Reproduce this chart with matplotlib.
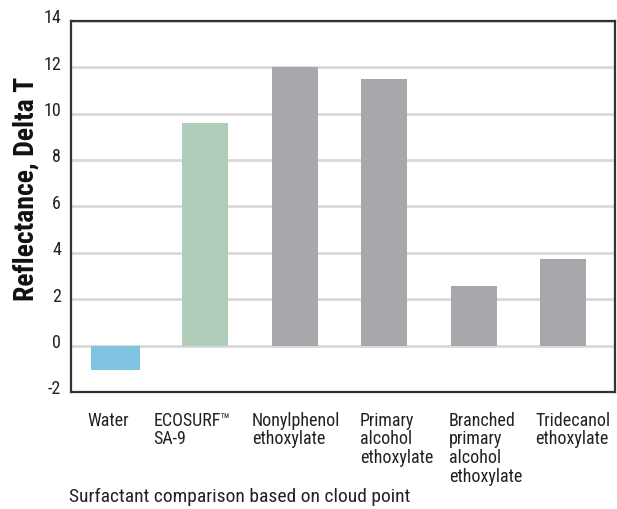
import matplotlib
matplotlib.use("Agg")
import matplotlib.pyplot as plt
import matplotlib.transforms as mtransforms

categories = ["Water", "ECOSURF\u2122\nSA-9", "Nonylphenol\nethoxylate",
              "Primary\nalcohol\nethoxylate", "Branched\nprimary\nalcohol\nethoxylate",
              "Tridecanol\nethoxylate"]
values = [-1.05, 9.6, 12.0, 11.5, 2.55, 3.75]
colors = ["#80c4e1", "#afcdb9", "#a7a8ac", "#a7a8ac", "#a7a8ac", "#a7a8ac"]
widths = [0.55, 0.51, 0.51, 0.51, 0.51, 0.51]
label_offsets = [-0.32, -0.58, -0.48, -0.27, -0.28, -0.31]
yticks = [-2, 0, 2, 4, 6, 8, 10, 12, 14]

FAM = ['Roboto Condensed', 'Liberation Sans', 'DejaVu Sans']
plt.rcParams['font.family'] = FAM

fig = plt.figure(figsize=(6.17, 5.10), dpi=100)
ax = fig.add_axes([0.115, 0.2294, 0.882, 0.728])

x = list(range(len(values)))
ax.bar(x, values, width=widths, color=colors, zorder=2)
ax.set_xlim(-0.5, 5.58)
ax.set_ylim(-2, 14)
ax.set_yticks(yticks)
ax.set_yticklabels([str(v) for v in yticks], fontsize=13, color="#222222")
ax.tick_params(axis='y', length=0, pad=7)
shift = mtransforms.ScaledTranslation(0, 4 / 72, fig.dpi_scale_trans)
for lbl in ax.get_yticklabels():
    lbl.set_transform(lbl.get_transform() + shift)
ax.set_xticks([])
ax.set_axisbelow(True)
ax.yaxis.grid(True, color="#d9d9d9", linewidth=2)
for s in ax.spines.values():
    s.set_color("#333333")
    s.set_linewidth(1.6)

trans = mtransforms.blended_transform_factory(ax.transData, ax.transAxes)
for i, (lab, off) in enumerate(zip(categories, label_offsets)):
    ax.text(i + off, -0.05, lab, transform=trans, ha='left', va='top',
            fontsize=13, linespacing=1.05, color="#222222")

fig.text(0.043, 0.629, "Reflectance, Delta T", fontsize=20, fontweight='bold',
         rotation=90, ha='center', va='center', color="#111111")
fig.text(0.112, 0.025, "Surfactant comparison based on cloud point", fontsize=14,
         ha='left', va='center', color="#222222")

fig.savefig("out.png", dpi=100)
